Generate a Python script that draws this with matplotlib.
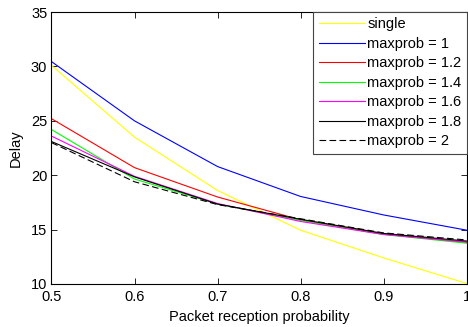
import matplotlib
matplotlib.use("Agg")
import matplotlib.pyplot as plt

plt.rcParams['font.family'] = ['Liberation Sans', 'DejaVu Sans']

x = [0.5, 0.6, 0.7, 0.8, 0.9, 1.0]
single = [30.1, 23.5, 18.6, 14.95, 12.4, 10.05]
mp1 = [30.45, 25.0, 20.8, 18.05, 16.35, 14.95]
mp12 = [25.2, 20.7, 18.0, 15.9, 14.6, 13.85]
mp14 = [24.2, 19.65, 17.35, 15.85, 14.55, 13.75]
mp16 = [23.6, 19.9, 17.4, 15.75, 14.55, 13.85]
mp18 = [23.1, 19.85, 17.35, 15.95, 14.65, 13.95]
mp2 = [23.0, 19.4, 17.3, 16.0, 14.7, 14.05]

labels = ['single', 'maxprob = 1', 'maxprob = 1.2', 'maxprob = 1.4',
          'maxprob = 1.6', 'maxprob = 1.8', 'maxprob = 2']
series = [single, mp1, mp12, mp14, mp16, mp18, mp2]
colors = ['#ffff00', '#0000ff', '#ff0000', '#00ff00', '#ff00ff', '#000000', '#000000']
styles = ['-', '-', '-', '-', '-', '-', (0, (6, 3))]

fig = plt.figure(figsize=(4.68, 3.27), dpi=100)
ax = fig.add_axes([0.110, 0.1315, 0.887, 0.8315])
for ys, lab, c, ls in zip(series, labels, colors, styles):
    ax.plot(x, ys, color=c, linestyle=ls, linewidth=0.8, label=lab)

ax.set_xlim(0.5, 1.0)
ax.set_ylim(10, 35)
ax.set_xticks([0.5, 0.6, 0.7, 0.8, 0.9, 1.0])
ax.set_xticklabels(['0.5', '0.6', '0.7', '0.8', '0.9', '1'])
ax.set_yticks([10, 15, 20, 25, 30, 35])
ax.tick_params(direction='in', top=True, right=True, length=4, width=0.6,
               labelsize=10.5)
ax.tick_params(axis='x', pad=4)
ax.tick_params(axis='y', pad=3)
for s in ax.spines.values():
    s.set_linewidth(0.8)
ax.set_xlabel('Packet reception probability', fontsize=10.5, labelpad=5)
ax.set_ylabel('Delay', fontsize=10.5, labelpad=6)

leg = ax.legend(loc='upper right', borderaxespad=0, fontsize=10.5,
                fancybox=False, framealpha=1, edgecolor='#444444',
                handlelength=3.2, handletextpad=0.15, labelspacing=0.38,
                borderpad=0.35)
leg.get_frame().set_linewidth(0.8)

fig.savefig('out.png', dpi=100)
